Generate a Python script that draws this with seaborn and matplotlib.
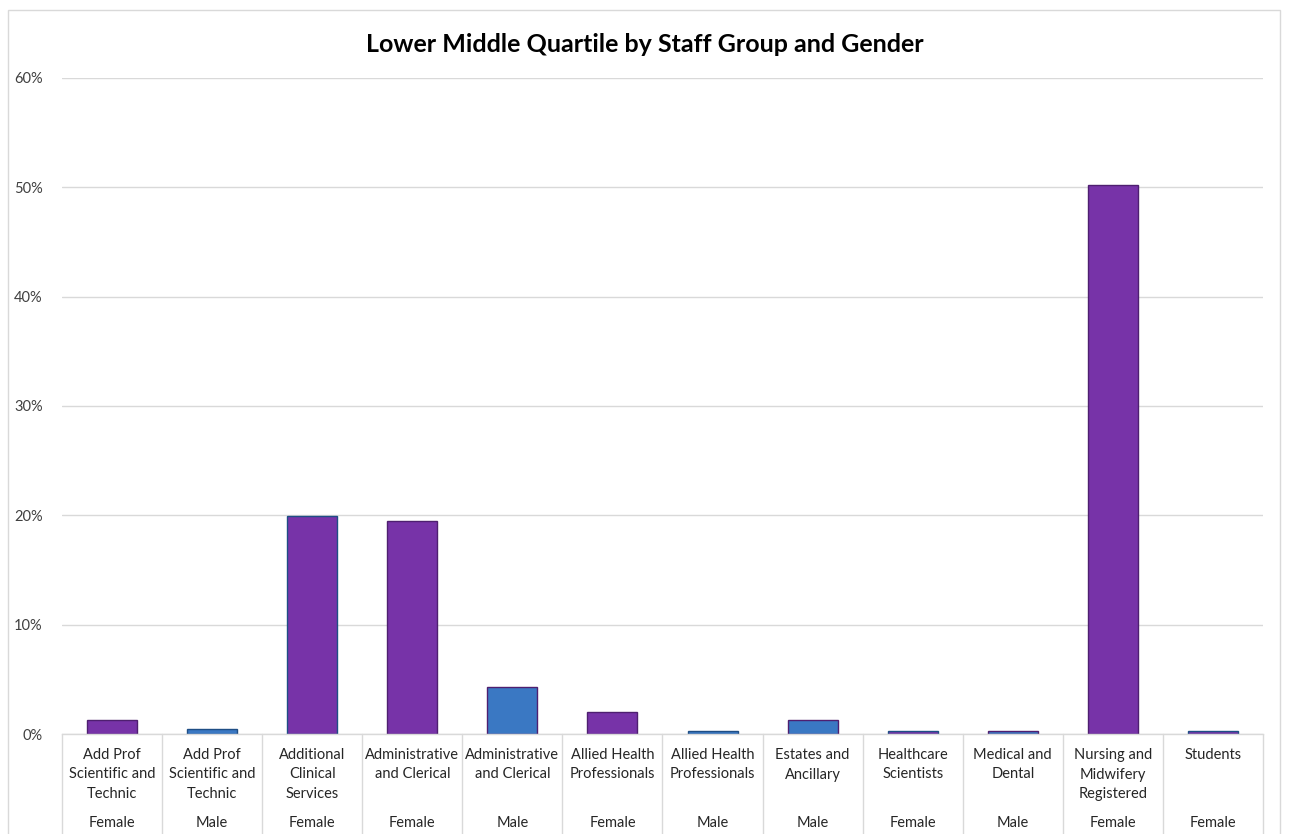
import matplotlib
matplotlib.use("Agg")
import matplotlib.pyplot as plt
import matplotlib.transforms as mtransforms
from matplotlib.patches import Rectangle
import seaborn as sns
import pandas as pd

groups = ["Add Prof\nScientific and\nTechnic", "Add Prof\nScientific and\nTechnic",
          "Additional\nClinical\nServices", "Administrative\nand Clerical",
          "Administrative\nand Clerical", "Allied Health\nProfessionals",
          "Allied Health\nProfessionals", "Estates and\nAncillary",
          "Healthcare\nScientists", "Medical and\nDental",
          "Nursing and\nMidwifery\nRegistered", "Students"]
genders = ["Female", "Male", "Female", "Female", "Male", "Female",
           "Male", "Male", "Female", "Male", "Female", "Female"]
values = [1.3, 0.5, 19.9, 19.5, 4.3, 2.0, 0.3, 1.3, 0.3, 0.3, 50.2, 0.3]
yticks = [0, 10, 20, 30, 40, 50, 60]

colors = {"Female": "#7733A8", "Male": "#3A78C3"}
edges = {"Female": "#4E1F70", "Male": "#1F4E85"}

sns.set_theme(style="white")
plt.rcParams['font.family'] = ['Lato', 'DejaVu Sans']

df = pd.DataFrame({"key": [f"c{i}" for i in range(len(values))],
                   "gender": genders,
                   "value": [v / 100 for v in values]})

fig = plt.figure(figsize=(12.9, 8.34), dpi=100)
ax = fig.add_axes([62/1290, 1 - 734/834, (1263-62)/1290, (734-78)/834])

sns.barplot(data=df, x="key", y="value", hue="gender", palette=colors,
            dodge=False, width=0.5, ax=ax, legend=False, saturation=1)
for patch, g in zip(ax.patches, genders):
    patch.set_edgecolor(edges[g])
    patch.set_linewidth(1.0)

ax.set_ylim(0, 0.6)
ax.set_xlim(-0.5, len(values) - 0.5)
ax.set_yticks([t / 100 for t in yticks])
ax.set_yticklabels([f"{t}%" for t in yticks], fontsize=10.5, color="#404040")
ax.tick_params(axis="y", length=0, pad=14)
ax.set_xticks([])
ax.set_xlabel("")
ax.set_ylabel("")
ax.yaxis.grid(True, color="#D9D9D9", linewidth=1)
ax.set_axisbelow(True)
for s in ["top", "right", "left"]:
    ax.spines[s].set_visible(False)
ax.spines["bottom"].set_color("#D9D9D9")
ax.spines["bottom"].set_linewidth(1)

trans = mtransforms.blended_transform_factory(ax.transData, fig.transFigure)
for i, (g, s) in enumerate(zip(groups, genders)):
    ax.text(i, 1 - 748/834, g, transform=trans, ha="center", va="top",
            fontsize=10.5, color="#262626", linespacing=1.5)
    ax.text(i, 1 - 823/834, s, transform=trans, ha="center", va="center",
            fontsize=10.5, color="#262626")
for b in range(len(values) + 1):
    ax.plot([b - 0.5, b - 0.5], [1 - 734/834, 0], transform=trans,
            color="#D9D9D9", linewidth=1, clip_on=False)

fig.text(0.5, 1 - 44/834, "Lower Middle Quartile by Staff Group and Gender",
         ha="center", va="center", fontsize=18, fontweight="bold", color="black")

fig.patches.append(Rectangle((8/1290, -0.01), (1280-8)/1290, 1 - 10/834 + 0.01,
                             transform=fig.transFigure, fill=False,
                             edgecolor="#D9D9D9", linewidth=1))

fig.savefig("out.png", dpi=100)
